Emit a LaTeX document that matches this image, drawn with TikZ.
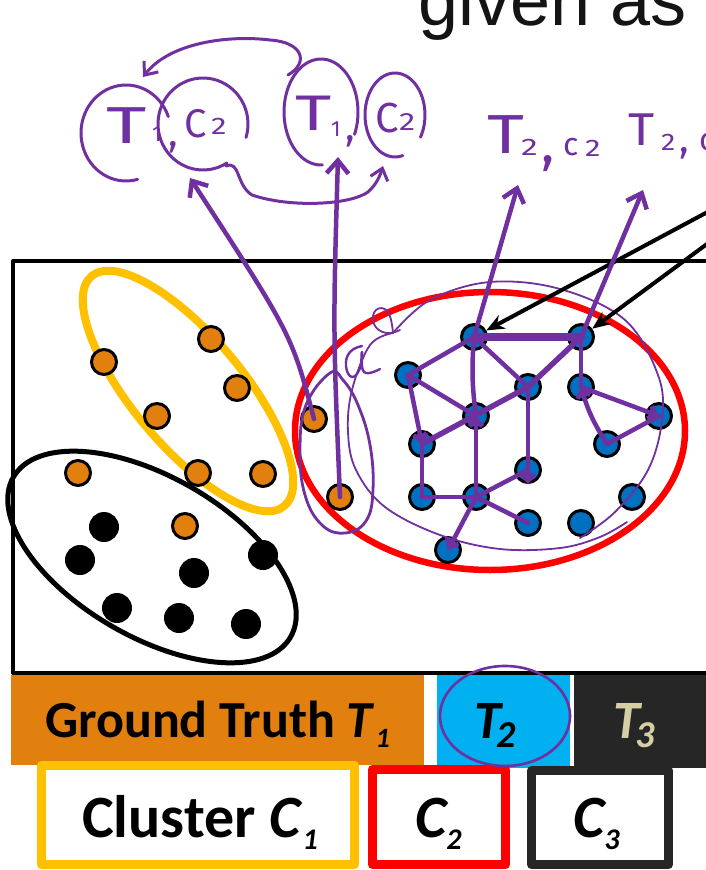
\documentclass[tikz,border=0pt]{standalone}
\usepackage{fontspec}
\usepackage{graphicx}
\setmainfont{Carlito}
\newfontfamily\headfont{Liberation Sans}
\newfontfamily\handfont{Fira Sans}
\usetikzlibrary{arrows.meta}

\definecolor{pen}{HTML}{7030A0}
\definecolor{ptorange}{HTML}{E2800F}
\definecolor{ptblue}{HTML}{0070C0}
\definecolor{barcyan}{HTML}{00B0F0}
\definecolor{bardark}{HTML}{262626}
\definecolor{labeltan}{HTML}{D6CFA3}
\definecolor{clgold}{HTML}{FFC000}
\definecolor{clred}{HTML}{FF0000}

\newcommand\fsz[1]{\fontsize{#1}{#1}\selectfont}
% lowered index: size, drop (pt), text
\newcommand\idx[3]{\raisebox{-#2pt}{\fsz{#1}#3}}

\tikzset{
  dotbase/.style={circle, draw=black, line width=3pt, minimum size=25pt, inner sep=0pt},
  odot/.style={dotbase, fill=ptorange},
  bdot/.style={dotbase, fill=ptblue},
  kdot/.style={dotbase, fill=black, minimum size=27pt},
  pedge/.style={draw=pen, line width=4.5pt},
  phead/.style={-{Straight Barb[length=7pt,width=13pt]}},
  pbig/.style={draw=pen, line width=4.5pt, -{Straight Barb[length=13pt,width=22pt]}},
  pthin/.style={draw=pen, line width=1.8pt},
  pring/.style={draw=pen, line width=3pt},
  hand/.style={font=\handfont, text=pen, inner sep=0pt, anchor=base west},
  tag/.style={inner sep=0pt, anchor=base west},
  clbox/.style={line width=9pt, fill=white},
}

\begin{document}
\begin{tikzpicture}[x=1pt, y=-1pt, line cap=round, line join=round]
\useasboundingbox (0,0) rectangle (706,870);
\clip (0,0) rectangle (706,870);

% heading text running off the top
\node[tag, font=\headfont\fsz{72}, text=black!92] (head) at (418,25) {given as};

% frame of the scatter panel
\draw[line width=4pt] (720,261) -- (13,261) -- (13,673) -- (720,673);

% cluster outlines
\draw[clgold, line width=8pt, rotate around={-50:(188,391)}] (188,391) ellipse [x radius=150, y radius=55];
\draw[black, line width=5pt, rotate around={-30:(152,557)}] (152,557) ellipse [x radius=160, y radius=80];
\draw[clred, line width=6.5pt] (490,431) ellipse [x radius=195, y radius=139];

% ground truth class T1 points
\node[odot] (o1) at (211,339) {};
\node[odot] (o2) at (104,362) {};
\node[odot] (o3) at (237,388) {};
\node[odot] (o4) at (157,416) {};
\node[odot] (o5) at (78,473) {};
\node[odot] (o6) at (198,473) {};
\node[odot] (o7) at (263,474) {};
\node[odot] (o8) at (185,526) {};
\node[odot] (o9) at (314,419) {};
\node[odot] (o10) at (340,497) {};

% class T3 points
\node[kdot] (k1) at (104,527) {};
\node[kdot] (k2) at (80,560) {};
\node[kdot] (k3) at (194,573) {};
\node[kdot] (k4) at (263,555) {};
\node[kdot] (k5) at (117,608) {};
\node[kdot] (k6) at (179,618) {};
\node[kdot] (k7) at (246,624) {};

% class T2 points
\node[bdot] (A) at (474,337) {};
\node[bdot] (B) at (581,337) {};
\node[bdot] (C) at (408,375) {};
\node[bdot] (D) at (528,387) {};
\node[bdot] (E) at (581,387) {};
\node[bdot] (F) at (659,416) {};
\node[bdot] (G) at (476,416) {};
\node[bdot] (H) at (422,444) {};
\node[bdot] (I) at (607,444) {};
\node[bdot] (J) at (528,470) {};
\node[bdot] (K) at (422,497) {};
\node[bdot] (L) at (476,497) {};
\node[bdot] (M) at (632,497) {};
\node[bdot] (N) at (528,523) {};
\node[bdot] (O) at (581,523) {};
\node[bdot] (P) at (448,550) {};

% legend bars
\fill[ptorange] (11,675) rectangle (424,765);
\fill[barcyan] (437,675) rectangle (570,768);
\fill[bardark] (574,675) rectangle (720,768);
\node[tag, font=\bfseries\fsz{52}] (gt) at (45,737) {Ground Truth \textit{T}\kern1pt\idx{28}{10}{\textit{1}}};
\node[tag, font=\bfseries\itshape\fsz{54}] (t2) at (474,738) {T\kern-4pt\idx{38}{9}{2}};
\node[tag, font=\bfseries\itshape\fsz{54}, text=labeltan] (t3) at (613,738) {T\kern-4pt\idx{38}{9}{3}};

\draw[clbox, draw=clgold] (41.5,765.5) rectangle (354.5,864.5);
\draw[clbox, draw=clred] (372.5,769.5) rectangle (505.5,864.5);
\draw[clbox, draw=bardark] (531.5,770.5) rectangle (668.5,864.5);
\node[tag, font=\bfseries\fsz{60}] (c1) at (82,837) {Cluster \textit{C}\idx{30}{12}{\textit{1}}};
\node[tag, font=\bfseries\itshape\fsz{60}] (c2) at (415,837) {C\idx{30}{12}{2}};
\node[tag, font=\bfseries\itshape\fsz{60}] (c3) at (573,837) {C\idx{30}{12}{3}};

% ---------------- pen annotations ----------------
% loose ring around the T2 cluster
\draw[pthin] plot[smooth, tension=0.6] coordinates {(393,333) (430,300) (490,282) (560,289) (625,320) (658,375) (662,420) (648,470) (615,512) (580,538)};
\draw[pthin] plot[smooth, tension=0.6] coordinates {(393,333) (370,345) (352,390) (348,432) (356,470) (385,507) (440,535) (500,549) (560,548) (600,537) (627,522)};
\draw[pthin] plot[smooth, tension=0.8] coordinates {(393,333) (388,312) (376,310) (374,324) (386,333) (400,330)};
\draw[pthin, line width=2.4pt] plot[smooth, tension=0.8] coordinates {(362,346) (350,352) (346,366) (352,377) (360,368) (362,352) (364,372) (380,369)};
% lasso round the two stray T1 points
\draw[pen, line width=2.8pt] plot[smooth cycle, tension=0.7] coordinates {(330,373) (306,405) (300,450) (305,495) (322,525) (345,533) (366,521) (373,490) (370,445) (358,405) (343,380)};

% links between T2 points
\draw[pedge, line width=8pt] (A.center) -- (B.center);
\draw[pedge] (A.center) -- (C.center);
\draw[pedge] (A.center) -- (D.center);
\draw[pedge] (A.center) to[bend right=6] (G.center);
\draw[pedge, line width=5.5pt] (B.center) -- (D.center) -- (H.center);
\draw[pedge] (C.center) -- (G.center);
\draw[pedge, phead] (C.center) -- (H.center);
\draw[pedge, phead] (L.center) -- (G.center);
\draw[pedge] (H.center) -- (K.center);
\draw[pedge] (K.center) -- (L.center);
\draw[pedge] (L.center) -- (J.center);
\draw[pedge, phead] (D.center) -- (J.south);
\draw[pedge] (L.center) -- (N.center);
\draw[pedge, phead] (L.center) -- (P.center);
\draw[pedge] (B.center) -- (E.center);
\draw[pedge, phead] (E.center) -- (F.center);
\draw[pedge] (F.center) -- (I.center);
\draw[pedge, phead] (I.center) to[bend left=8] (E.center);

% arrows pointing at the first two T2 points
\coordinate (e1) at (730,200);
\coordinate (e2) at (730,227);
\draw[line width=4pt, -{Stealth[length=18pt,width=15pt]}] (e1) -- (A);
\draw[line width=4pt, -{Stealth[length=18pt,width=15pt]}] (e2) -- (B);

% handwritten labels
\node[hand] (lT) at (106,143) {\fsz{52}\scalebox{1.5}[1]{T}};
\node[hand] (l1) at (152,141) {\fsz{22}1};
\node[hand] (lcm) at (168,146) {\fsz{40},};
\node[hand] (lC) at (184,137) {\fsz{40}C};
\node[hand] (l2) at (211,134) {\fsz{24}\scalebox{1.3}[1]{2}};

\node[hand] (rT) at (295,130) {\fsz{50}\scalebox{1.4}[1]{T}};
\node[hand] (r1) at (331,136) {\fsz{22}1};
\node[hand] (rcm) at (345,140) {\fsz{40},};
\node[hand] (rC) at (375,132) {\fsz{42}C};
\node[hand] (r2) at (399,130) {\fsz{25}\scalebox{1.3}[1]{2}};

\node[hand] (aT) at (487,153) {\fsz{55}\scalebox{1.3}[1]{T}};
\node[hand] (a2) at (521,155) {\fsz{24}\scalebox{1.4}[1]{2}};
\node[hand] (acm) at (541,162) {\fsz{55},};
\node[hand] (ac) at (563,155) {\fsz{32}c};
\node[hand] (a22) at (585,156) {\fsz{24}\scalebox{1.3}[1]{2}};

\node[hand] (bT) at (628,145) {\fsz{46}\scalebox{1.1}[1]{T}};
\node[hand] (b2) at (661,150) {\fsz{24}\scalebox{1.2}[1]{2}};
\node[hand] (bcm) at (679,152) {\fsz{40},};
\node[hand] (bc) at (699,150) {\fsz{32}c};

% rings round the handwritten pairs
\draw[pring] (126,133) ++(75:45 and 48) arc[start angle=75, end angle=340, x radius=45, y radius=48];
\draw[pring] (203,124) ++(58:45 and 46) arc[start angle=58, end angle=377, x radius=45, y radius=46];
\draw[pring] (321,112) ++(88:37 and 53) arc[start angle=88, end angle=385, x radius=37, y radius=53];
\draw[pring] (395,115) ++(75:30 and 42) arc[start angle=75, end angle=392, x radius=30, y radius=42];
\draw[pring, line width=2.6pt] (505,716) ++(70:65 and 50) arc[start angle=70, end angle=440, x radius=65, y radius=50];

% swap arrows between the pairs
\draw[pen, line width=3pt, -{Straight Barb[length=11pt,width=18pt]}] (288,75) .. controls (310,62) and (302,42) .. (270,40) .. controls (230,35) and (170,42) .. (143,77);
\draw[pen, line width=3pt, -{Straight Barb[length=11pt,width=18pt]}] (226,166) .. controls (240,160) and (236,185) .. (252,195) .. controls (290,208) and (350,205) .. (368,192) .. controls (376,185) and (380,176) .. (383,166);

% arrows from points up to their labels
\coordinate (h1) at (190,178);
\coordinate (h2) at (338,157);
\coordinate (t2a) at (518,185);
\coordinate (t2b) at (643,190);
\draw[pbig] (o9.center) .. controls (292,335) .. (h1);
\draw[pbig] (o10.center) .. controls (333,330) .. (h2);
\draw[pbig] (A.center) -- (t2a);
\draw[pbig] (B.center) -- (t2b);
\end{tikzpicture}
\end{document}
